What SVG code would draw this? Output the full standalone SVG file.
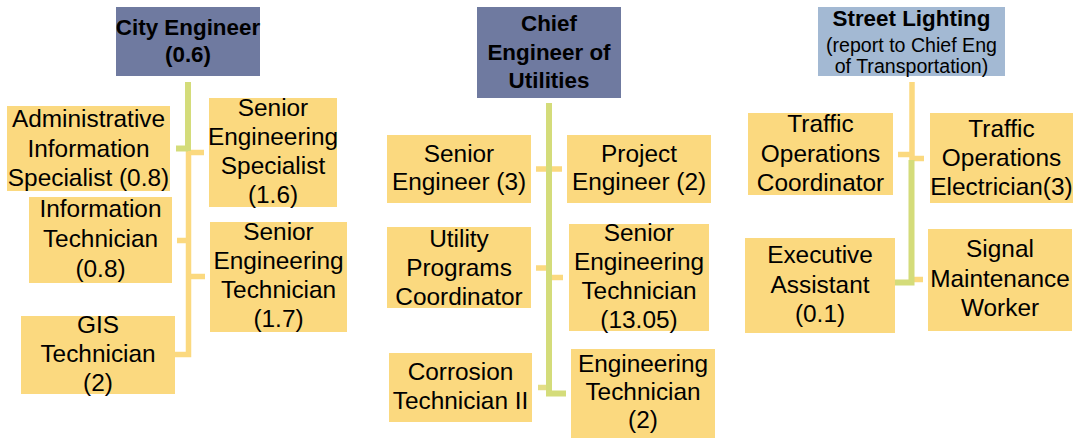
<svg xmlns="http://www.w3.org/2000/svg" width="1076" height="439" viewBox="0 0 1076 439">
<style>
.box{fill:#fbd97f}
.head{fill:#6f7aa0}
.head2{fill:#a3b9d3}
text{font-family:"Liberation Sans",Arial,sans-serif;fill:#000;text-anchor:middle}
.t{font-size:24.4px}
.b{font-size:22.4px;font-weight:bold}
.s{font-size:19.6px}
.y{stroke:#fbd97f;fill:none;stroke-width:5.5}
.g{stroke:#d4dc7a;fill:none;stroke-width:6}
.lg{stroke:#e4dd86;fill:none;stroke-width:5.5}
</style>
<rect width="1076" height="439" fill="#fff"/>
<g id="connectors">
  <path class="y" d="M188.5 151 V354.5 H175"/>
  <path class="y" d="M188 152.5 H204 M177 240.5 H188 M188 276.5 H205"/>
  <path class="g" d="M188 82 V151"/>
  <path class="g" d="M176 148.5 H188" stroke-width="5"/>
  <path class="y" d="M536 169 H562 M536 268 H549 M549 277.5 H563"/>
  <path class="lg" d="M538 387.5 H549"/>
  <path class="g" d="M549 103 V393.5 H566"/>
  <path class="y" d="M912 82 V160" stroke-width="6"/>
  <path class="y" d="M898 154.5 H912 M912 158.5 H924 M911 279.5 H923"/>
  <path class="g" d="M911.5 160 V282.5 H895" stroke-width="5.5"/>
</g>
<g id="city-engineer">
  <rect class="head" x="116" y="7" width="144" height="69"/>
  <text class="b" x="188" y="35">City Engineer</text>
  <text class="b" x="188" y="62">(0.6)</text>
</g>
<g id="admin-info-specialist">
  <rect class="box" x="7" y="106" width="163" height="85"/>
  <text class="t" x="88.5" y="127">Administrative</text>
  <text class="t" x="88.5" y="156.5">Information</text>
  <text class="t" x="88.5" y="186">Specialist (0.8)</text>
</g>
<g id="senior-eng-specialist">
  <rect class="box" x="209" y="98" width="128" height="109"/>
  <text class="t" x="273" y="116">Senior</text>
  <text class="t" x="273" y="145">Engineering</text>
  <text class="t" x="273" y="174">Specialist</text>
  <text class="t" x="273" y="203">(1.6)</text>
</g>
<g id="information-technician">
  <rect class="box" x="29" y="197" width="143" height="86"/>
  <text class="t" x="100.5" y="217">Information</text>
  <text class="t" x="100.5" y="247">Technician</text>
  <text class="t" x="100.5" y="277">(0.8)</text>
</g>
<g id="senior-eng-technician-1">
  <rect class="box" x="210" y="222" width="137" height="110"/>
  <text class="t" x="278.5" y="240">Senior</text>
  <text class="t" x="278.5" y="269">Engineering</text>
  <text class="t" x="278.5" y="298">Technician</text>
  <text class="t" x="278.5" y="327">(1.7)</text>
</g>
<g id="gis-technician">
  <rect class="box" x="21" y="316" width="154" height="78"/>
  <text class="t" x="98" y="333">GIS</text>
  <text class="t" x="98" y="362">Technician</text>
  <text class="t" x="98" y="391">(2)</text>
</g>
<g id="chief-engineer-utilities">
  <rect class="head" x="477" y="7" width="144" height="91"/>
  <text class="b" x="549" y="31">Chief</text>
  <text class="b" x="549" y="59.5">Engineer of</text>
  <text class="b" x="549" y="88">Utilities</text>
</g>
<g id="senior-engineer">
  <rect class="box" x="387" y="135" width="144" height="68"/>
  <text class="t" x="459" y="162">Senior</text>
  <text class="t" x="459" y="190">Engineer (3)</text>
</g>
<g id="project-engineer">
  <rect class="box" x="567" y="135" width="144" height="68"/>
  <text class="t" x="639" y="162">Project</text>
  <text class="t" x="639" y="190">Engineer (2)</text>
</g>
<g id="utility-programs-coordinator">
  <rect class="box" x="387" y="227" width="144" height="81"/>
  <text class="t" x="459" y="247">Utility</text>
  <text class="t" x="459" y="276">Programs</text>
  <text class="t" x="459" y="305">Coordinator</text>
</g>
<g id="senior-eng-technician-2">
  <rect class="box" x="569" y="224" width="140" height="107"/>
  <text class="t" x="639" y="241">Senior</text>
  <text class="t" x="639" y="270">Engineering</text>
  <text class="t" x="639" y="299">Technician</text>
  <text class="t" x="639" y="328">(13.05)</text>
</g>
<g id="corrosion-technician">
  <rect class="box" x="389" y="353" width="143" height="69"/>
  <text class="t" x="460.5" y="380">Corrosion</text>
  <text class="t" x="460.5" y="409">Technician II</text>
</g>
<g id="engineering-technician">
  <rect class="box" x="571" y="349" width="144" height="89"/>
  <text class="t" x="643" y="372">Engineering</text>
  <text class="t" x="643" y="400">Technician</text>
  <text class="t" x="643" y="428">(2)</text>
</g>
<g id="street-lighting">
  <rect class="head2" x="818" y="7" width="187" height="69"/>
  <text class="b" x="911.5" y="26" font-size="22.8">Street Lighting</text>
  <text class="s" x="911.5" y="52">(report to Chief Eng</text>
  <text class="s" x="911.5" y="73">of Transportation)</text>
</g>
<g id="traffic-ops-coordinator">
  <rect class="box" x="748" y="113" width="145" height="82"/>
  <text class="t" x="820.5" y="132">Traffic</text>
  <text class="t" x="820.5" y="162">Operations</text>
  <text class="t" x="820.5" y="191">Coordinator</text>
</g>
<g id="traffic-ops-electrician">
  <rect class="box" x="930" y="113" width="143" height="90"/>
  <text class="t" x="1001.5" y="137">Traffic</text>
  <text class="t" x="1001.5" y="166">Operations</text>
  <text class="t" x="1001.5" y="195">Electrician(3)</text>
</g>
<g id="executive-assistant">
  <rect class="box" x="745" y="238" width="150" height="95"/>
  <text class="t" x="820" y="263">Executive</text>
  <text class="t" x="820" y="293">Assistant</text>
  <text class="t" x="820" y="322">(0.1)</text>
</g>
<g id="signal-maintenance-worker">
  <rect class="box" x="928" y="229" width="144" height="102"/>
  <text class="t" x="1000" y="257">Signal</text>
  <text class="t" x="1000" y="287">Maintenance</text>
  <text class="t" x="1000" y="316">Worker</text>
</g>
</svg>
